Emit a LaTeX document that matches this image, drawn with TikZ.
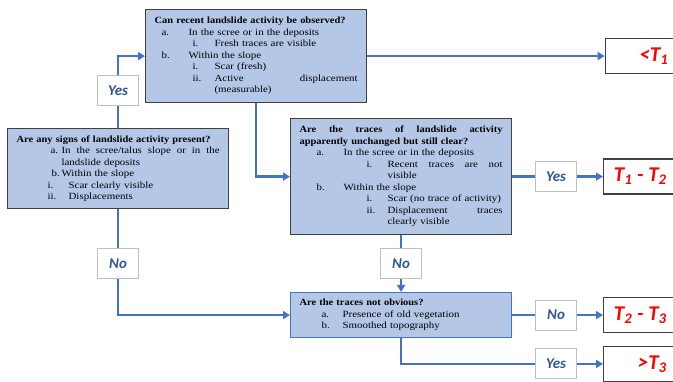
\documentclass[tikz,border=0pt]{standalone}
\usepackage{fontspec}
\setmainfont{Liberation Serif}
\newfontfamily\bodyfont{Liberation Serif}[FakeStretch=1.15]
\newfontfamily\headfont{Liberation Serif}[FakeStretch=1.1]
\newfontfamily\calfont{Carlito}
\usetikzlibrary{arrows.meta,positioning}

\definecolor{qfill}{HTML}{B4C7E7}
\definecolor{qedge}{HTML}{404040}
\definecolor{flowblue}{HTML}{4472C4}
\definecolor{lblblue}{HTML}{2F5597}
\definecolor{lblgray}{HTML}{BFBFBF}

\newcommand{\qhead}[1]{\noindent{\headfont\bfseries #1}\par}
\newcommand{\qitem}[3]{\par\leftskip=#2\relax\noindent\hspace*{\dimexpr#1-#2\relax}\makebox[\dimexpr#2-#1\relax][l]{#3}}
\newcommand{\resval}[1]{\makebox[63pt][r]{#1}\hspace*{27pt}}

\tikzset{
  qbox/.style={draw=qedge, line width=1.2pt, fill=qfill, text width=203pt, inner xsep=9pt, inner ysep=2pt, font=\bodyfont\fontsize{9.5}{11.5}\selectfont},
  lbl/.style={draw=lblgray, line width=0.8pt, fill=white, minimum width=41pt, minimum height=30pt, inner sep=0pt, text=lblblue, font=\calfont\bfseries\itshape\fontsize{15}{18}\selectfont},
  res/.style={draw=qedge, line width=1.2pt, fill=white, inner xsep=0pt, minimum width=90pt, minimum height=35pt, text=red, font=\calfont\bfseries\itshape\fontsize{21}{25}\selectfont},
  flow/.style={draw=flowblue, line width=2.2pt},
  arr/.style={flow, -{Triangle[length=7pt,width=8pt]}}
}

\begin{document}
\begin{tikzpicture}[x=1pt,y=-1pt]
\useasboundingbox (0,0) rectangle (673,382);
\clip (0,0) rectangle (673,382);

% questions
\path (7,128) coordinate (Q0);
\path (145,9) coordinate (Q1);
\path (290,118) coordinate (Q2);

\node[qbox, anchor=north west, minimum height=80pt] (q0) at (Q0) {
\qhead{Are any signs of landslide activity present?}
\qitem{34pt}{45pt}{a.}In\hfill the\hfill scree/talus\hfill slope\hfill or\hfill in\hfill the\\landslide deposits
\qitem{35pt}{45pt}{b.}Within the slope
\qitem{31pt}{52pt}{i.}Scar clearly visible
\qitem{31pt}{52pt}{ii.}Displacements\par};

\node[qbox, anchor=north west, minimum height=93pt] (q1) at (Q1) {
\qhead{Can recent landslide activity be observed?}
\qitem{7pt}{34pt}{a.}In the scree or in the deposits
\qitem{38pt}{60pt}{i.}Fresh traces are visible
\qitem{7pt}{34pt}{b.}Within the slope
\qitem{38pt}{60pt}{i.}Scar (fresh)
\qitem{38pt}{60pt}{ii.}Active\hfill displacement\\(measurable)\par};

\node[qbox, anchor=north west, minimum height=116pt] (q2) at (Q2) {
\qhead{Are\hfill the\hfill traces\hfill of\hfill landslide\hfill activity\\apparently unchanged but still clear?}
\qitem{17pt}{44pt}{a.}In the scree or in the deposits
\qitem{67pt}{88pt}{i.}Recent\hfill traces\hfill are\hfill not\\visible
\qitem{17pt}{44pt}{b.}Within the slope
\qitem{67pt}{88pt}{i.}Scar (no trace of activity)
\qitem{67pt}{88pt}{ii.}Displacement\hfill traces\\clearly visible\par};

\node[lbl, below=13pt of q2] (no2) {No};

\node[qbox, below=13pt of no2, minimum height=45pt, draw=flowblue] (q3) {
\qhead{Are the traces not obvious?}
\qitem{22pt}{43pt}{a.}Presence of old vegetation
\qitem{22pt}{43pt}{b.}Smoothed topography\par};

% answers
\node[lbl, above=22pt of q0] (yes1) {Yes};
\node[lbl, below=39pt of q0] (no1) {No};
\node[res, right=237.5pt of q1] (lt1) {\resval{<T\textsubscript{1}}};
\node[lbl, right=23pt of q2] (yes2) {Yes};
\node[res, right=26pt of yes2] (t12) {\resval{T\textsubscript{1} - T\textsubscript{2}}};
\node[lbl, right=23pt of q3] (no3) {No};
\node[res, right=26pt of no3] (t23) {\resval{T\textsubscript{2} - T\textsubscript{3}}};
\node[lbl, below=18pt of no3] (yes3) {Yes};
\node[res, right=26pt of yes3] (gt3) {\resval{>T\textsubscript{3}}};

% connectors
\draw[flow] (q0.north) -- (yes1.south);
\draw[arr] (yes1.north) |- (q1.west);
\draw[flow] (q0.south) -- (no1.north);
\draw[arr] (no1.south) |- (q3.west);
\draw[arr] (q1.south) |- (q2.west);
\draw[arr] (q1.east) -- (q1.east -| lt1.west);
\draw[flow] (q2) -- (yes2);
\draw[arr] (yes2) -- (t12);
\draw[flow] (q2) -- (no2);
\draw[arr] (no2) -- (q3);
\draw[flow] (q3) -- (no3);
\draw[arr] (no3) -- (t23);
\draw[flow] (q3.south) |- (yes3.west);
\draw[arr] (yes3) -- (gt3);
\end{tikzpicture}
\end{document}
